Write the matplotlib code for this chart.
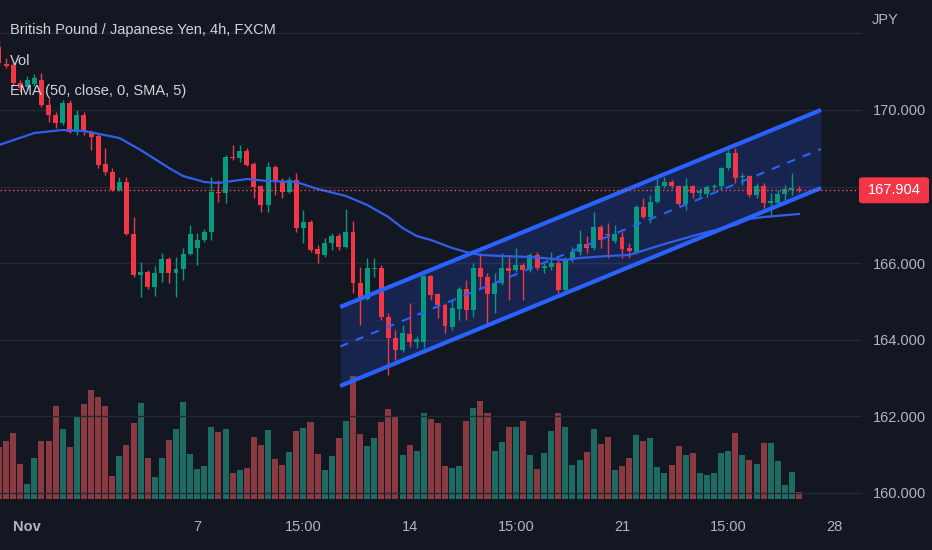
import numpy as np
import matplotlib.pyplot as plt
from matplotlib.patches import FancyBboxPatch

plt.rcParams['font.family'] = ['Liberation Sans', 'DejaVu Sans']

# GBP/JPY 4h candles (bar index 0..113)
opens = [171.645, 171.201, 171.175, 170.705, 170.601, 170.679, 170.783, 170.131, 169.869, 169.661,
         170.183, 169.426, 169.869, 169.426, 169.321, 168.590, 168.381, 167.911, 168.120, 166.762,
         165.692, 165.770, 165.379, 165.744, 166.110, 165.744, 165.849, 166.240, 166.397, 166.606,
         166.815, 167.859, 167.833, 168.773, 168.747, 168.930, 168.590, 168.016, 167.520, 168.512,
         168.120, 167.859, 168.172, 166.919, 167.076, 166.371, 166.214, 166.527, 166.710, 166.423,
         166.815, 165.483, 165.065, 165.849, 165.875, 164.595, 164.047, 163.734, 164.152, 163.943,
         163.943, 165.666, 165.196, 164.909, 164.334, 164.804, 165.326, 164.778, 165.875, 165.640,
         165.196, 165.483, 165.875, 165.822, 165.953, 165.822, 166.214, 165.875, 165.901, 166.005,
         165.300, 166.110, 166.292, 166.501, 166.397, 166.945, 166.762, 166.580, 166.684, 166.397,
         166.292, 167.467, 167.206, 167.598, 168.016, 168.120, 168.016, 167.546, 168.016, 167.833,
         167.807, 167.990, 168.016, 168.486, 168.877, 168.251, 168.277, 167.781, 168.016, 167.572,
         167.572, 167.807, 167.911, 167.937]
highs = [171.828, 171.358, 171.227, 170.783, 170.888, 170.940, 170.966, 170.339, 169.948, 170.261,
         170.261, 170.000, 169.948, 169.478, 169.373, 169.008, 168.486, 168.251, 168.251, 167.206,
         166.031, 165.822, 165.927, 166.266, 166.162, 166.162, 166.397, 166.997, 166.789, 166.893,
         168.251, 168.172, 168.825, 169.086, 169.086, 169.008, 168.642, 168.042, 168.642, 168.564,
         168.225, 168.251, 168.355, 167.389, 167.128, 166.475, 166.658, 166.789, 166.789, 167.415,
         167.102, 165.901, 166.136, 166.136, 165.953, 164.700, 164.256, 164.386, 164.961, 164.099,
         165.692, 165.692, 165.222, 164.961, 165.039, 165.379, 165.561, 166.005, 166.266, 165.744,
         165.744, 166.266, 166.162, 166.397, 166.005, 166.266, 166.292, 166.031, 166.292, 166.084,
         166.162, 166.423, 166.867, 166.710, 167.337, 166.997, 167.050, 166.997, 166.815, 166.527,
         167.520, 167.702, 167.781, 168.251, 168.251, 168.172, 168.042, 168.225, 168.042, 167.963,
         168.042, 168.068, 168.512, 168.956, 169.008, 168.355, 168.303, 168.094, 168.094, 167.833,
         167.911, 168.042, 168.355, 168.016]
lows = [171.149, 171.097, 170.627, 170.470, 170.522, 170.627, 170.078, 169.687, 169.530, 169.608,
        169.399, 169.347, 169.347, 168.956, 168.486, 168.303, 167.885, 167.885, 166.736, 165.640,
        165.117, 165.326, 165.144, 165.509, 165.483, 165.117, 165.561, 166.214, 165.953, 166.554,
        166.606, 167.598, 167.572, 168.694, 168.642, 168.538, 167.702, 167.337, 167.337, 167.781,
        167.702, 167.833, 166.815, 166.527, 166.292, 166.005, 166.162, 166.345, 166.345, 166.397,
        165.222, 164.386, 165.039, 165.640, 164.517, 163.081, 163.473, 163.681, 163.812, 163.786,
        163.786, 165.039, 164.569, 164.178, 164.256, 164.517, 164.517, 164.595, 165.352, 164.439,
        164.700, 165.431, 165.039, 165.770, 165.039, 165.770, 165.822, 165.744, 165.822, 165.222,
        165.248, 166.031, 166.214, 166.266, 166.345, 166.397, 166.136, 166.527, 166.136, 166.136,
        166.240, 167.180, 167.050, 167.572, 167.963, 167.963, 167.520, 167.389, 167.702, 167.702,
        167.728, 167.937, 167.911, 168.433, 168.094, 168.042, 167.728, 167.702, 167.442, 167.206,
        167.546, 167.650, 167.781, 167.859]
closes = [171.227, 171.149, 170.705, 170.574, 170.783, 170.836, 170.131, 169.869, 169.661, 170.183,
          169.426, 169.869, 169.426, 169.295, 168.564, 168.381, 167.911, 168.120, 166.762, 165.692,
          165.770, 165.379, 165.744, 166.110, 165.744, 165.849, 166.240, 166.762, 166.606, 166.815,
          167.859, 167.833, 168.773, 168.747, 168.930, 168.564, 167.990, 167.520, 168.512, 168.120,
          167.859, 168.172, 166.919, 167.076, 166.345, 166.240, 166.527, 166.710, 166.423, 166.815,
          165.483, 165.065, 165.875, 165.875, 164.595, 164.047, 163.734, 164.178, 163.943, 164.021,
          165.666, 165.170, 164.909, 164.360, 164.830, 165.326, 164.778, 165.875, 165.640, 165.196,
          165.483, 165.875, 165.796, 165.953, 165.822, 166.214, 165.875, 165.927, 166.005, 165.300,
          166.110, 166.292, 166.501, 166.397, 166.945, 166.606, 166.736, 166.762, 166.371, 166.318,
          167.467, 167.206, 167.598, 168.016, 168.120, 168.016, 167.546, 168.016, 167.833, 167.885,
          167.990, 168.016, 168.486, 168.877, 168.225, 168.277, 167.781, 168.016, 167.572, 167.624,
          167.807, 167.937, 167.963, 167.904]
volumes = [155, 173, 197, 105, 45, 122, 175, 175, 278, 210, 157, 247, 285, 327, 307, 280, 70, 130,
           163, 228, 287, 123, 67, 122, 177, 210, 290, 135, 89, 98, 215, 202, 209, 77, 87, 94, 187,
           163, 207, 120, 103, 140, 205, 213, 232, 135, 87, 130, 183, 233, 370, 195, 159, 182, 230,
           270, 247, 132, 163, 143, 257, 240, 228, 98, 92, 100, 233, 272, 293, 258, 145, 172, 215,
           215, 235, 133, 90, 137, 205, 257, 215, 102, 118, 142, 210, 166, 187, 87, 100, 122, 192,
           175, 183, 97, 79, 103, 158, 133, 138, 79, 73, 77, 137, 145, 197, 133, 118, 106, 169, 167,
           115, 43, 80, 20]

# EMA (50, close, 0, SMA, 5)
ema_bars = [0, 5, 9, 12, 17, 20, 24, 26, 29, 31, 35, 38, 42, 45, 49, 52, 55, 57, 59, 61, 64, 66,
            68, 71, 75, 80, 82, 86, 89, 94, 99, 104, 106, 108, 113]
ema_vals = [169.086, 169.399, 169.478, 169.452, 169.269, 168.956, 168.486, 168.277, 168.120,
            168.094, 168.198, 168.146, 168.120, 167.937, 167.755, 167.520, 167.206, 166.919,
            166.710, 166.606, 166.397, 166.292, 166.214, 166.188, 166.162, 166.084, 166.136,
            166.188, 166.214, 166.501, 166.762, 166.997, 167.154, 167.206, 167.285]

# parallel channel drawing
channel_x = [48.2, 116.1]
channel_upper = [164.856, 170.000]
channel_lower = [162.794, 167.963]

tick_pos = [4, 28, 43, 58, 73, 88, 103, 118]
tick_labels = ['Nov', '7', '15:00', '14', '15:00', '21', '15:00', '28']
price_ticks = [160, 162, 164, 166, 168, 170, 172]

BG = '#131722'
UP = '#089981'
DOWN = '#f23645'
VOL_UP = '#1d6b62'
VOL_DOWN = '#8a3a40'
BLUE = '#2962ff'
TXT = '#d1d4dc'
AXTXT = '#b2b5be'
FS = 10.5

W, H = 932, 550
fig = plt.figure(figsize=(W / 100, H / 100), dpi=100, facecolor=BG)
pane = [0, 1 - 499 / H, 862 / W, 499 / H]

ax_vol = fig.add_axes(pane)
ax = fig.add_axes(pane, sharex=ax_vol)
ax_vol.set_axis_off()
ax.set_facecolor('none')

x = np.arange(len(closes))
o = np.array(opens)
c = np.array(closes)
up = c >= o

# volume
ax_vol.bar(x, volumes, width=0.85, color=np.where(up, VOL_UP, VOL_DOWN), linewidth=0)
ax_vol.set_ylim(0, 1497)

# grid
for p in price_ticks:
    ax.axhline(p, color='#242833', lw=1, zorder=0)

# channel fill
cx = np.array(channel_x)
cu = np.array(channel_upper)
cl = np.array(channel_lower)
ax.fill_between(cx, cl, cu, color=BLUE, alpha=0.2, lw=0, zorder=1)

# candles
cols = np.where(up, UP, DOWN)
ax.vlines(x, lows, highs, colors=cols, lw=1, zorder=3)
body = np.maximum(np.abs(c - o), 0.025)
ax.bar(x, body, bottom=np.minimum(o, c), width=0.7, color=cols, linewidth=0, zorder=4)

# EMA
ax.plot(ema_bars, ema_vals, color='#3060ea', lw=1.6, zorder=5)

# channel lines
ax.plot(cx, cu, color=BLUE, lw=3, zorder=6, solid_capstyle='butt')
ax.plot(cx, cl, color=BLUE, lw=3, zorder=6, solid_capstyle='butt')
ax.plot(cx, (cu + cl) / 2, color=BLUE, lw=1.5, ls=(0, (4, 4)), zorder=6)

# last price line
ax.axhline(closes[-1], color='#f7525f', lw=1, ls=(0, (1, 2)), zorder=7)

ax.set_xlim(0.14, 121.9)
ax.set_ylim(159.843, 172.872)
for s in ax.spines.values():
    s.set_visible(False)

ax.yaxis.tick_right()
ax.set_yticks(price_ticks)
ax.set_yticklabels(['' if p in (168, 172) else f'{p:.3f}' for p in price_ticks])
ax.tick_params(axis='y', length=0, pad=8, labelsize=FS, colors=AXTXT)
ax.set_xticks(tick_pos)
ax.set_xticklabels(tick_labels)
ax.tick_params(axis='x', length=0, pad=15, labelsize=FS, colors=AXTXT)
ax.get_xticklabels()[0].set_fontweight('bold')

# last price tag on the price scale
yfig = fig.transFigure.inverted().transform(ax.transData.transform((0, closes[-1])))[1]
tag = FancyBboxPatch((859 / W, yfig - 13 / H), 70 / W, 26 / H, boxstyle='round,pad=0,rounding_size=0.004',
                     transform=fig.transFigure, fc=DOWN, ec='none', zorder=10)
fig.patches.append(tag)
fig.text(894 / W, yfig, f'{closes[-1]:.3f}', ha='center', va='center', color='white', fontsize=FS, zorder=11)

fig.text(872 / W, 1 - 20 / H, 'JPY', color=AXTXT, fontsize=FS, va='center')
fig.text(10 / W, 1 - 30 / H, 'British Pound / Japanese Yen, 4h, FXCM', color=TXT, fontsize=FS, va='center')
fig.text(10 / W, 1 - 61 / H, 'Vol', color=TXT, fontsize=FS, va='center')
fig.text(10 / W, 1 - 91 / H, 'EMA (50, close, 0, SMA, 5)', color=TXT, fontsize=FS, va='center')

fig.savefig('out.png', dpi=100, facecolor=BG)
